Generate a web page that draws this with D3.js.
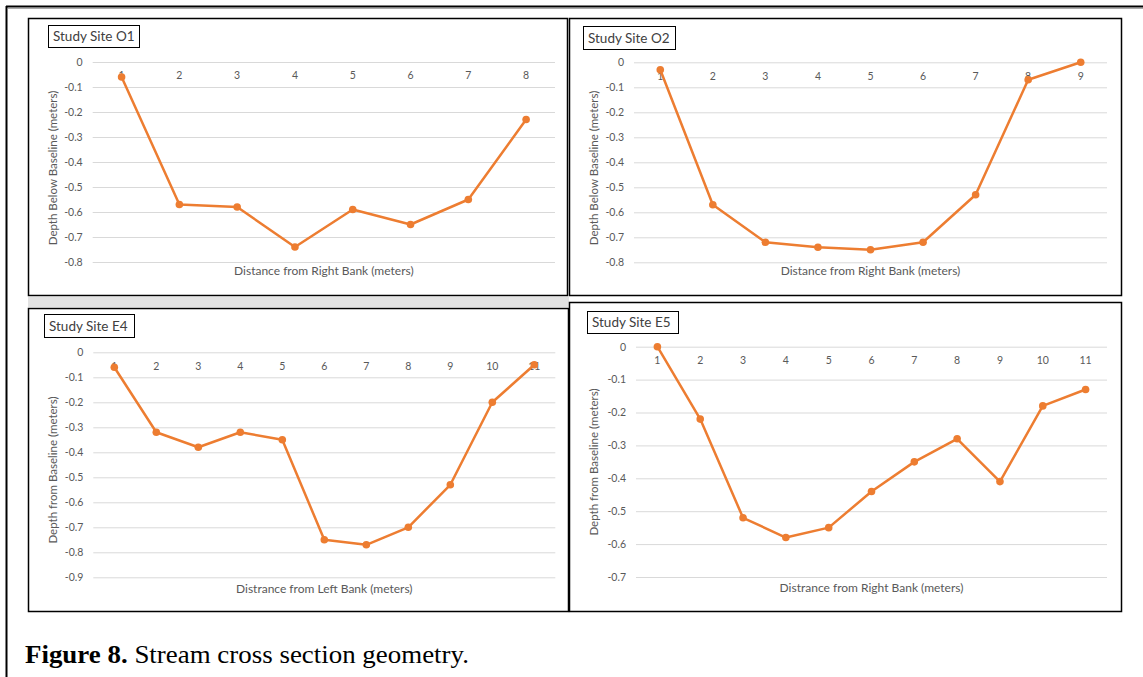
<!DOCTYPE html>
<html>
<head>
<meta charset="utf-8">
<script src="https://cdn.jsdelivr.net/npm/d3@7"></script>
<style>
  body { margin: 0; background: #fff; }
  svg { display: block; }
  .tick text { font-family: Lato, "Open Sans", sans-serif; }
</style>
</head>
<body>
<svg id="fig" width="1143" height="677"></svg>
<script>
// values (depth in meters, negative = below baseline)
const o1Dist = [1, 2, 3, 4, 5, 6, 7, 8]
const o1Depth = [-0.06, -0.57, -0.58, -0.74, -0.59, -0.65, -0.55, -0.23]

const o2Dist = [1, 2, 3, 4, 5, 6, 7, 8, 9]
const o2Depth = [-0.03, -0.57, -0.72, -0.74, -0.75, -0.72, -0.53, -0.07, 0]

const e4Dist = [1, 2, 3, 4, 5, 6, 7, 8, 9, 10, 11]
const e4Depth = [-0.06, -0.32, -0.38, -0.32, -0.35, -0.75, -0.77, -0.70, -0.53, -0.20, -0.05]

const e5Dist = [1, 2, 3, 4, 5, 6, 7, 8, 9, 10, 11]
const e5Depth = [0, -0.22, -0.52, -0.58, -0.55, -0.44, -0.35, -0.28, -0.41, -0.18, -0.13]

const o1Ticks = [0, -0.1, -0.2, -0.3, -0.4, -0.5, -0.6, -0.7, -0.8]
const o2Ticks = [0, -0.1, -0.2, -0.3, -0.4, -0.5, -0.6, -0.7, -0.8]
const e4Ticks = [0, -0.1, -0.2, -0.3, -0.4, -0.5, -0.6, -0.7, -0.8, -0.9]
const e5Ticks = [0, -0.1, -0.2, -0.3, -0.4, -0.5, -0.6, -0.7]

const orange = '#ED7D31'
const grey = '#595959'
const font = 'Lato, "Open Sans", sans-serif'

const svg = d3.select('#fig')

// outer page frame
svg.append('line').attr('x1', 6).attr('x2', 1143).attr('y1', 6.5).attr('y2', 6.5)
  .attr('stroke', '#000').attr('stroke-width', 2)
svg.append('line').attr('x1', 8).attr('x2', 1143).attr('y1', 8.5).attr('y2', 8.5)
  .attr('stroke', '#aaa').attr('stroke-width', 1)
svg.append('line').attr('x1', 6.5).attr('x2', 6.5).attr('y1', 6).attr('y2', 677)
  .attr('stroke', '#000').attr('stroke-width', 2)

// grey strip between the upper and lower left charts
svg.append('rect').attr('x', 28).attr('y', 297).attr('width', 541).attr('height', 10)
  .attr('fill', '#e2e2e2')

function fmt(d) {
  if (d === 0) return '0'
  return d.toFixed(1)
}

function drawPanel(p) {
  let g = svg.append('g')

  g.append('rect')
    .attr('x', p.frame[0] + 0.5).attr('y', p.frame[1] + 0.5)
    .attr('width', p.frame[2]).attr('height', p.frame[3])
    .attr('fill', '#fff').attr('stroke', '#000').attr('stroke-width', 1.5)

  let x = d3.scaleBand().domain(p.cats).range([p.left, p.right])
  let y = d3.scaleLinear().domain([d3.min(p.ticks), 0]).range([p.bottom, p.top])

  // gridlines + y labels
  let ya = g.append('g')
    .attr('transform', `translate(${p.left},0)`)
    .call(d3.axisLeft(y).tickValues(p.ticks).tickFormat(fmt)
      .tickSize(-(p.right - p.left)).tickPadding(10))
  ya.select('.domain').remove()
  ya.selectAll('.tick line').attr('stroke', '#d9d9d9').attr('stroke-width', 1)
  ya.selectAll('.tick text').attr('fill', grey).style('font-size', '10.5px')

  // category labels sit just under the zero line
  let xa = g.append('g')
    .attr('transform', `translate(0,${y(0)})`)
    .call(d3.axisBottom(x).tickSize(0).tickPadding(10))
  xa.select('.domain').remove()
  xa.selectAll('.tick text').attr('fill', grey).style('font-size', '10.5px')

  let line = d3.line()
    .x((d, i) => x(p.cats[i]) + x.bandwidth() / 2)
    .y(d => y(d))

  g.append('path')
    .datum(p.values)
    .attr('d', line)
    .attr('fill', 'none')
    .attr('stroke', orange)
    .attr('stroke-width', 2.5)
    .attr('stroke-linejoin', 'round')

  g.selectAll('circle.pt')
    .data(p.values)
    .join('circle')
    .attr('class', 'pt')
    .attr('cx', (d, i) => x(p.cats[i]) + x.bandwidth() / 2)
    .attr('cy', d => y(d))
    .attr('r', 3.8)
    .attr('fill', orange)

  // axis titles
  g.append('text')
    .attr('x', (p.left + p.right) / 2).attr('y', p.xTitleY)
    .attr('text-anchor', 'middle')
    .style('font-family', font).style('font-size', '12px')
    .attr('fill', grey)
    .text(p.xTitle)

  g.append('text')
    .attr('transform', `translate(${p.yTitleX},${p.yTitleY}) rotate(-90)`)
    .attr('text-anchor', 'middle')
    .style('font-family', font).style('font-size', '11.5px')
    .attr('fill', grey)
    .text(p.yTitle)

  // boxed chart title
  g.append('rect')
    .attr('x', p.titleBox[0] + 0.5).attr('y', p.titleBox[1] + 0.5)
    .attr('width', p.titleBox[2]).attr('height', p.titleBox[3])
    .attr('fill', '#fff').attr('stroke', '#000').attr('stroke-width', 1)
  g.append('text')
    .attr('x', p.titleBox[0] + 5).attr('y', p.titleBox[1] + p.titleBox[3] / 2 + 5)
    .style('font-family', font).style('font-size', '13.5px')
    .attr('fill', '#404040')
    .text(p.title)
}

drawPanel({
  title: 'Study Site O1', cats: o1Dist, values: o1Depth, ticks: o1Ticks,
  frame: [28, 18, 539, 277], titleBox: [48, 25, 91, 22],
  left: 92.7, right: 555, top: 62, bottom: 262,
  xTitle: 'Distance from Right Bank (meters)', xTitleY: 275,
  yTitle: 'Depth Below Baseline (meters)', yTitleX: 57, yTitleY: 168
})

drawPanel({
  title: 'Study Site O2', cats: o2Dist, values: o2Depth, ticks: o2Ticks,
  frame: [569, 18, 552, 277], titleBox: [583, 26, 92, 23],
  left: 634, right: 1107, top: 62.3, bottom: 262.3,
  xTitle: 'Distance from Right Bank (meters)', xTitleY: 275,
  yTitle: 'Depth Below Baseline (meters)', yTitleX: 598, yTitleY: 168
})

drawPanel({
  title: 'Study Site E4', cats: e4Dist, values: e4Depth, ticks: e4Ticks,
  frame: [28, 308, 540, 303], titleBox: [44, 314, 90, 23],
  left: 93.3, right: 555.3, top: 352.3, bottom: 577.3,
  xTitle: 'Distrance from Left Bank (meters)', xTitleY: 593,
  yTitle: 'Depth from Baseline (meters)', yTitleX: 57, yTitleY: 470
})

drawPanel({
  title: 'Study Site E5', cats: e5Dist, values: e5Depth, ticks: e5Ticks,
  frame: [569, 302, 552, 309], titleBox: [587, 311, 91, 22],
  left: 636, right: 1107, top: 346.7, bottom: 577,
  xTitle: 'Distrance from Right Bank (meters)', xTitleY: 592,
  yTitle: 'Depth from Baseline (meters)', yTitleX: 598, yTitleY: 462
})

// caption
let cap = svg.append('text')
  .attr('x', 25).attr('y', 663)
  .attr('textLength', 444).attr('lengthAdjust', 'spacingAndGlyphs')
  .style('font-family', '"Liberation Serif", "Times New Roman", serif')
  .style('font-size', '25px')
  .attr('fill', '#000')
cap.append('tspan').attr('font-weight', 'bold').text('Figure 8.')
cap.append('tspan').text(' Stream cross section geometry.')
</script>
</body>
</html>
